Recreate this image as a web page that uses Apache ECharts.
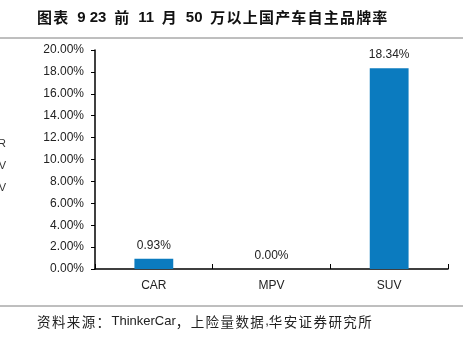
<!DOCTYPE html>
<html>
<head>
<meta charset="utf-8">
<script src="https://cdn.jsdelivr.net/npm/echarts@6/dist/echarts.min.js"></script>
<style>
html,body{margin:0;padding:0;background:#fff;}
#chart{width:475px;height:343px;}
</style>
</head>
<body>
<div id="chart"></div>
<script>
// Segment shares of domestic-brand cars priced above 500k (Jan–Nov 2023)
var categories = ['CAR', 'MPV', 'SUV'];
var shareValues = [0.93, 0.00, 18.34];
var yTickMin = 0, yTickMax = 20, yTickStep = 2;
var titleText = '图表 9 23 前 11 月 50 万以上国产车自主品牌率';
var sourceText = '资料来源：ThinkerCar，上险量数据,华安证券研究所';
var legendCut = ['CAR', 'MPV', 'SUV'];

var chart = echarts.init(document.getElementById('chart'));
var font = '"Liberation Sans", Arial, sans-serif';
var cjk = '"Noto Sans CJK SC", sans-serif';

function isCjk(ch) { return /[\u3000-\u9fff\uff00-\uffef]/.test(ch || ''); }

// Wrap CJK characters as fixed-width rich fragments so the line keeps an even pitch;
// spaces that touch a CJK character get a wider gap, as in mixed CJK/Latin typesetting
function toRich(str) {
  var out = '', run = '';
  for (var i = 0; i < str.length; i++) {
    var ch = str[i];
    if (isCjk(ch)) {
      if (run) { out += '{d|' + run + '}'; run = ''; }
      out += '{c|' + ch + '}';
    } else if (ch === ' ' && (isCjk(str[i - 1]) || isCjk(str[i + 1]))) {
      if (run) { out += '{d|' + run + '}'; run = ''; }
      out += '{s| }';
    } else {
      run += ch;
    }
  }
  if (run) out += '{d|' + run + '}';
  return out;
}

var graphics = [
  { type: 'text', left: 37, top: 10,
    style: { text: toRich(titleText),
      rich: {
        c: { font: 'bold 15px ' + cjk, fill: '#111', width: 16.2 },
        s: { font: 'bold 15px ' + font, width: 7.8 },
        d: { font: 'bold 15px ' + font, fill: '#111' }
      } } },
  { type: 'line', shape: { x1: 0, y1: 38, x2: 463, y2: 38 }, style: { stroke: '#7f7f7f', lineWidth: 1 } },
  { type: 'line', shape: { x1: 0, y1: 306, x2: 463, y2: 306 }, style: { stroke: '#7f7f7f', lineWidth: 1 } },
  { type: 'text', left: 37, top: 315,
    style: { text: toRich(sourceText),
      rich: {
        c: { font: '13.5px ' + cjk, fill: '#222', width: 14.9 },
        d: { font: '13px ' + font, fill: '#222' }
      } } }
];
// clipped legend entries at the left edge
legendCut.forEach(function (name, i) {
  graphics.push({ type: 'text', x: 6, y: 144 + i * 22,
    style: { text: name, font: '11px ' + font, fill: '#333', textAlign: 'right', textVerticalAlign: 'middle' } });
});

chart.setOption({
  animation: false,
  grid: { left: 95, right: 27, top: 50, bottom: 74 },
  graphic: graphics,
  xAxis: {
    type: 'category',
    data: categories,
    axisLine: { lineStyle: { color: '#000', width: 1.5 } },
    axisTick: { show: true, inside: true, length: 5, lineStyle: { color: '#000' } },
    axisLabel: { color: '#222', fontSize: 12, fontFamily: font, margin: 11 }
  },
  yAxis: {
    type: 'value',
    min: yTickMin, max: yTickMax, interval: yTickStep,
    splitLine: { show: false },
    axisLine: { show: true, lineStyle: { color: '#000', width: 1.5 } },
    axisTick: { show: true, length: 4, lineStyle: { color: '#000' } },
    axisLabel: { color: '#222', fontSize: 12, fontFamily: font, margin: 11,
      formatter: function (v) { return v.toFixed(2) + '%'; } }
  },
  series: [{
    type: 'bar',
    data: shareValues,
    barWidth: '33%',
    itemStyle: { color: '#0b7bbf' },
    label: { show: true, position: 'top', distance: 7, color: '#222', fontSize: 12, fontFamily: font,
      formatter: function (p) { return p.value.toFixed(2) + '%'; } }
  }]
});
</script>
</body>
</html>
